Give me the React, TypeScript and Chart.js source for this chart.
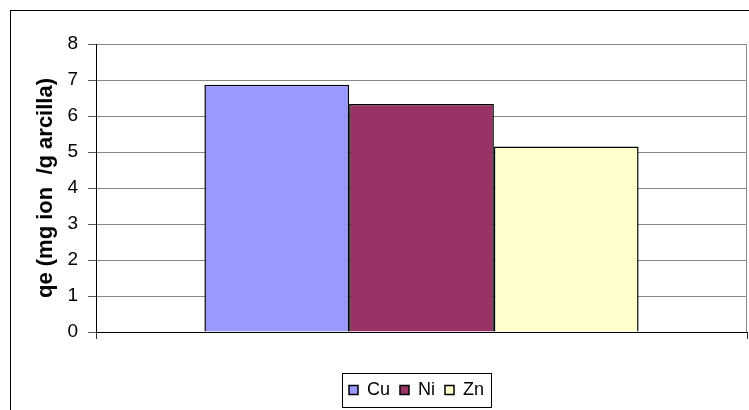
import React, { useEffect, useRef } from "react";
import { Chart, registerables } from "chart.js";

Chart.register(...registerables);

const categories = [""];
const seriesNames = ["Cu", "Ni", "Zn"];
const cuValues = [6.87];
const niValues = [6.33];
const znValues = [5.15];
const seriesColors = ["#9999FF", "#993366", "#FFFFCC"];
const yTicks = [0, 1, 2, 3, 4, 5, 6, 7, 8];
const yTitle = "qe (mg ion  /g arcilla)";

const FONT = "Arial, 'Liberation Sans', sans-serif";

const framePlugin = {
  id: "frame",
  afterLayout(chart: any) {
    const lg = chart.legend;
    if (lg) {
      const shift = 43;
      lg.left += shift;
      lg.right += shift;
    }
  },
  beforeDraw(chart: any) {
    const ctx = chart.ctx;
    ctx.save();
    ctx.fillStyle = "#fff";
    ctx.fillRect(0, 0, chart.width, chart.height);
    ctx.strokeStyle = "#000";
    ctx.lineWidth = 1;
    ctx.strokeRect(10.5, 10.5, chart.width + 20, chart.height + 20);
    ctx.restore();
  },
  afterDraw(chart: any) {
    const ctx = chart.ctx;
    const a = chart.chartArea;
    ctx.save();
    ctx.strokeStyle = "#888";
    ctx.lineWidth = 1;
    ctx.beginPath();
    ctx.moveTo(Math.round(a.right) - 0.5, a.top);
    ctx.lineTo(Math.round(a.right) - 0.5, a.bottom);
    ctx.stroke();
    const boxes = chart.legend && chart.legend.legendHitBoxes;
    if (boxes && boxes.length) {
      let minX = Infinity, maxX = -Infinity, minY = Infinity, maxY = -Infinity;
      for (const b of boxes) {
        minX = Math.min(minX, b.left);
        maxX = Math.max(maxX, b.left + b.width);
        minY = Math.min(minY, b.top);
        maxY = Math.max(maxY, b.top + b.height);
      }
      ctx.strokeStyle = "#000";
      ctx.strokeRect(Math.round(minX - 7) + 0.5, Math.round(minY - 8) + 0.5, Math.round(maxX - minX + 14), Math.round(maxY - minY + 16));
    }
    ctx.restore();
  },
};

export default function App() {
  const ref = useRef<HTMLCanvasElement | null>(null);
  useEffect(() => {
    if (!ref.current) return;
    Chart.defaults.color = "#000";
    const values = [cuValues, niValues, znValues];
    const chart = new Chart(ref.current, {
      type: "bar",
      data: {
        labels: categories,
        datasets: seriesNames.map((name, i) => ({
          label: name,
          data: values[i],
          backgroundColor: seriesColors[i],
          borderColor: "#000",
          borderWidth: 1.5,
          barPercentage: 1,
          categoryPercentage: 0.667,
        })),
      },
      options: {
        responsive: false,
        animation: false,
        layout: { padding: { left: 0, top: 44, right: 2, bottom: 1 } },
        plugins: {
          tooltip: { enabled: false },
          legend: {
            position: "bottom",
            labels: {
              boxWidth: 9,
              boxHeight: 9,
              padding: 10,
              color: "#000",
              font: { family: FONT, size: 18 },
            },
          },
        },
        scales: {
          x: {
            offset: true,
            grid: {
              offset: true,
              drawOnChartArea: false,
              tickLength: 7,
              tickColor: "#333",
            },
            border: { color: "#000", width: 1 },
            ticks: { display: false },
            afterFit: (s: any) => {
              s.height = 39;
            },
          },
          y: {
            min: 0,
            max: 8,
            afterBuildTicks: (s: any) => {
              s.ticks = yTicks.map((v) => ({ value: v }));
            },
            grid: { color: "#888", tickLength: 8, tickColor: "#555" },
            border: { color: "#000", width: 1 },
            ticks: {
              padding: 10,
              color: "#000",
              font: { family: FONT, size: 19 },
            },
            title: {
              display: true,
              text: yTitle,
              color: "#000",
              font: { family: FONT, size: 22, weight: "bold" },
              padding: { top: 33, bottom: 0 },
            },
            afterFit: (s: any) => {
              s.width = 96;
            },
          },
        },
      },
      plugins: [framePlugin],
    });
    return () => chart.destroy();
  }, []);
  return (
    <div style={{ position: "absolute", left: 0, top: 0, width: 749, height: 410 }}>
      <canvas ref={ref} width={749} height={410} />
    </div>
  );
}
